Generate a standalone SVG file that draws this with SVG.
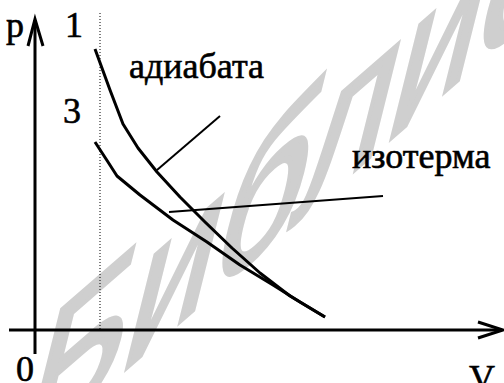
<svg xmlns="http://www.w3.org/2000/svg" width="504" height="383" viewBox="0 0 504 383">
<style>
.ax{stroke:#000;stroke-width:3;fill:none}
.crv{stroke:#000;stroke-width:3;fill:none;stroke-linejoin:round;stroke-linecap:butt}
.ldr{stroke:#000;stroke-width:2;fill:none}
.lbl{font-family:"Liberation Serif","Times New Roman",serif;font-size:36px;fill:#000;stroke:#000;stroke-width:0.6px}
</style>
<rect width="504" height="383" fill="#fff"/>
<g id="watermark">
<text transform="matrix(0.755,-0.656,-0.254,1.019,12,468)" font-family="Liberation Sans, Arial, sans-serif" font-size="210" fill="#cfcfcf" stroke="#cfcfcf" stroke-width="6">Библиотека</text>
</g>
<g id="axes">
<line class="ax" x1="35" y1="354" x2="35" y2="20"/>
<polyline class="ax" points="28,46 35,19 43,46"/>
<line class="ax" x1="9" y1="330" x2="502" y2="330"/>
<polyline class="ax" points="478,322 503,330 478,338"/>
<line x1="100" y1="13" x2="100" y2="330" stroke="#000" stroke-width="1" stroke-dasharray="1,2"/>
</g>
<g id="curves">
<polyline id="adiabat" class="crv" points="95,49 110,90 123,124 138,148 157,172 180,197 205,222 232,248 260,273 290,296 325,317"/>
<polyline id="isotherm" class="crv" points="95,142 108,162 117,176 140,195 173,220 207,242 240,265 273,285 300,302 325,317"/>
</g>
<g id="connectors">
<line class="ldr" x1="157" y1="170" x2="220" y2="116"/>
<line class="ldr" x1="169" y1="212" x2="383" y2="196"/>
</g>
<g id="labels">
<text class="lbl" x="6" y="37">p</text>
<text class="lbl" x="65" y="37">1</text>
<text class="lbl" x="63" y="123">3</text>
<text class="lbl" x="129" y="78">адиабата</text>
<text class="lbl" x="352" y="168">изотерма</text>
<text class="lbl" x="16" y="381">0</text>
<text class="lbl" x="469" y="390">V</text>
</g>
</svg>
